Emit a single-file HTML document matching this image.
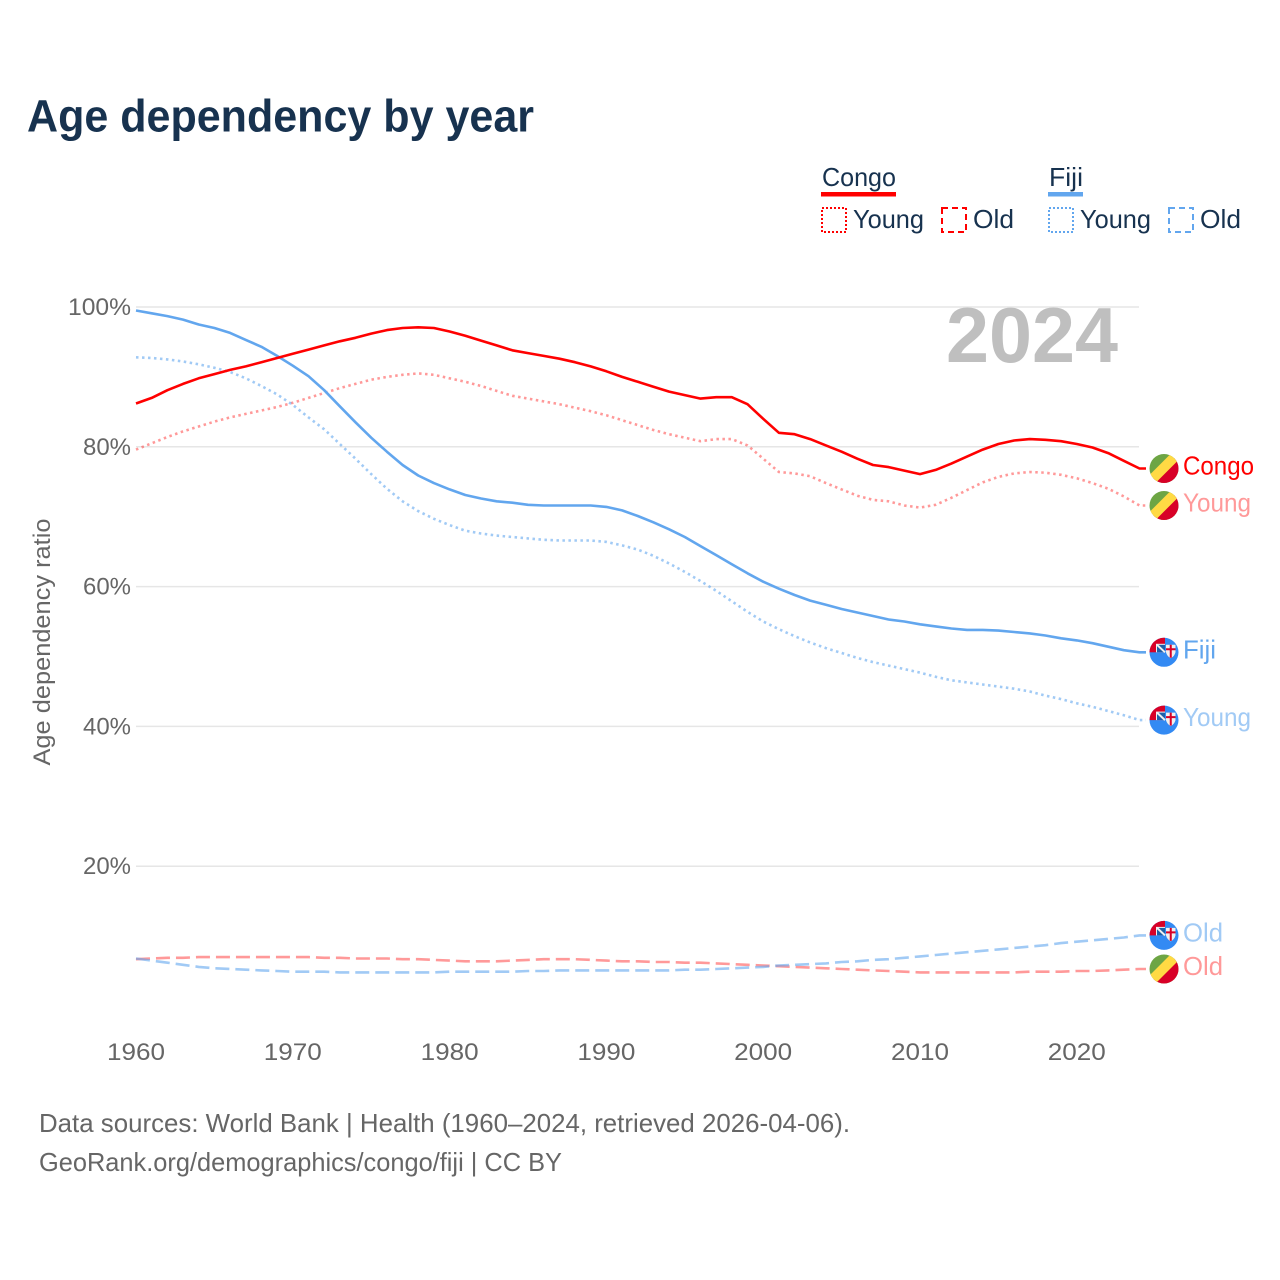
<!DOCTYPE html>
<html lang="en">
<head>
<meta charset="utf-8">
<title>Age dependency by year</title>
<style>
html,body{margin:0;padding:0;background:#fff;}
svg{display:block;}
text{font-family:"Liberation Sans",sans-serif;}
</style>
</head>
<body>
<svg id="chart" xmlns="http://www.w3.org/2000/svg" width="1280" height="1280" viewBox="0 0 1280 1280">
  <defs>
    <clipPath id="flag-clip"><circle cx="0" cy="0" r="14.5"/></clipPath>
    <g id="flag-congo" clip-path="url(#flag-clip)">
      <rect x="-15" y="-15" width="30" height="30" fill="#6da544"/>
      <polygon points="-15,15 15,-15 15,15" fill="#d80027"/>
      <polygon points="-15,7 7,-15 15,-15 15,-9 -9,15 -15,15" fill="#ffda44"/>
    </g>
    <g id="flag-fiji" clip-path="url(#flag-clip)">
      <rect x="-15" y="-15" width="30" height="30" fill="#338af3"/>
      <rect x="-15" y="-15" width="16" height="15" fill="#d80027"/>
      <rect x="-8" y="-8.500" width="9" height="8.500" fill="#f0f0f0"/>
      <rect x="-7" y="-7.500" width="8" height="7.500" fill="#1d5fa8"/>
      <path d="M-7,-7.500 L1,0" stroke="#f0f0f0" stroke-width="2"/>
      <path d="M2,-7.500 h9.500 v7.500 q-1,4 -4.750,6 q-3.750,-2 -4.750,-6 z" fill="#f0f0f0"/>
      <path d="M6.750,-7.500 v13 M2,-3 h9.500" stroke="#d80027" stroke-width="2"/>
    </g>
  </defs>

  <text x="27" y="131.500" font-size="45" font-weight="700" fill="#17324f" textLength="507" lengthAdjust="spacingAndGlyphs">Age dependency by year</text>

  <g>
    <text x="822" y="186" font-size="26" fill="#17324f" textLength="74" lengthAdjust="spacingAndGlyphs">Congo</text>
    <rect x="821" y="192" width="75" height="4.500" fill="#ff0000"/>
    <rect x="822" y="208" width="24" height="24" fill="none" stroke="#ff0000" stroke-width="2" stroke-dasharray="2 2"/>
    <text x="853" y="228" font-size="26" fill="#17324f" textLength="71" lengthAdjust="spacingAndGlyphs">Young</text>
    <rect x="942" y="208" width="24" height="24" fill="none" stroke="#ff0000" stroke-width="2" stroke-dasharray="6 4"/>
    <text x="973" y="228" font-size="26" fill="#17324f" textLength="41" lengthAdjust="spacingAndGlyphs">Old</text>

    <text x="1049" y="186" font-size="26" fill="#17324f" textLength="34" lengthAdjust="spacingAndGlyphs">Fiji</text>
    <rect x="1048" y="192" width="35" height="4.500" fill="#62a6ee"/>
    <rect x="1049" y="208" width="24" height="24" fill="none" stroke="#62a6ee" stroke-width="2" stroke-dasharray="2 2"/>
    <text x="1080" y="228" font-size="26" fill="#17324f" textLength="71" lengthAdjust="spacingAndGlyphs">Young</text>
    <rect x="1169" y="208" width="24" height="24" fill="none" stroke="#62a6ee" stroke-width="2" stroke-dasharray="6 4"/>
    <text x="1200" y="228" font-size="26" fill="#17324f" textLength="41" lengthAdjust="spacingAndGlyphs">Old</text>
  </g>

  <g id="grid"></g>
  <text x="946" y="362" font-size="78" font-weight="700" fill="#bfbfbf" textLength="172" lengthAdjust="spacingAndGlyphs">2024</text>
  <text transform="translate(50,642) rotate(-90)" text-anchor="middle" font-size="24" fill="#666666" textLength="247" lengthAdjust="spacingAndGlyphs">Age dependency ratio</text>
  <g id="y-ticks"></g>
  <g id="x-ticks"></g>
  <g id="series"></g>
  <g id="ends"></g>

  <text x="39" y="1132" font-size="26" fill="#666666" textLength="811" lengthAdjust="spacingAndGlyphs">Data sources: World Bank | Health (1960–2024, retrieved 2026-04-06).</text>
  <text x="39" y="1171" font-size="26" fill="#666666" textLength="523" lengthAdjust="spacingAndGlyphs">GeoRank.org/demographics/congo/fiji | CC BY</text>
</svg>

<script>
const startYear = 1960;
const xTickYears = [1960, 1970, 1980, 1990, 2000, 2010, 2020];
const yTickValues = [20, 40, 60, 80, 100];

const congoTotal = [86.2,87.0,88.1,89.0,89.8,90.4,91.0,91.5,92.1,92.7,93.3,93.9,94.5,95.1,95.6,96.2,96.7,97.0,97.1,97.0,96.5,95.9,95.2,94.5,93.8,93.4,93.0,92.6,92.1,91.5,90.8,90.0,89.3,88.6,87.9,87.4,86.9,87.1,87.1,86.1,84.0,82.0,81.8,81.1,80.2,79.3,78.3,77.4,77.1,76.6,76.1,76.7,77.6,78.6,79.6,80.4,80.9,81.1,81.0,80.8,80.4,79.9,79.1,78.0,76.9];
const congoYoung = [79.6,80.5,81.4,82.2,82.9,83.6,84.2,84.7,85.2,85.7,86.3,87.0,87.7,88.4,89.0,89.6,90.0,90.3,90.5,90.3,89.8,89.3,88.7,88.0,87.3,86.9,86.5,86.1,85.6,85.1,84.5,83.8,83.1,82.4,81.8,81.3,80.8,81.1,81.1,80.2,78.3,76.4,76.2,75.8,74.8,73.9,73.0,72.4,72.2,71.6,71.3,71.7,72.7,73.8,74.9,75.7,76.2,76.4,76.3,76.0,75.5,74.8,74.0,72.9,71.6];
const congoOld = [6.7,6.8,6.9,6.9,7.0,7.0,7.0,7.0,7.0,7.0,7.0,7.0,6.9,6.9,6.8,6.8,6.8,6.7,6.7,6.6,6.5,6.4,6.4,6.4,6.5,6.6,6.7,6.7,6.7,6.6,6.5,6.4,6.4,6.3,6.3,6.2,6.2,6.1,6.0,5.9,5.8,5.7,5.6,5.5,5.4,5.3,5.2,5.1,5.0,4.9,4.8,4.8,4.8,4.8,4.8,4.8,4.8,4.9,4.9,4.9,5.0,5.0,5.1,5.2,5.3];
const fijiTotal = [99.5,99.1,98.7,98.2,97.5,97.0,96.3,95.3,94.3,93.0,91.6,90.1,88.1,85.8,83.5,81.3,79.3,77.4,75.9,74.8,73.9,73.1,72.6,72.2,72.0,71.7,71.6,71.6,71.6,71.6,71.4,70.9,70.1,69.2,68.2,67.1,65.8,64.5,63.2,61.9,60.7,59.7,58.8,58.0,57.4,56.8,56.3,55.8,55.3,55.0,54.6,54.3,54.0,53.8,53.8,53.7,53.5,53.3,53.0,52.6,52.3,51.9,51.4,50.9,50.6];
const fijiYoung = [92.8,92.7,92.5,92.2,91.8,91.3,90.7,89.8,88.7,87.5,86.0,84.2,82.5,80.4,78.3,76.1,74.0,72.2,70.8,69.7,68.8,68.0,67.6,67.3,67.1,66.9,66.7,66.6,66.6,66.6,66.4,65.9,65.3,64.4,63.3,62.1,60.8,59.4,57.9,56.4,55.0,53.9,52.9,52.0,51.2,50.5,49.8,49.2,48.7,48.2,47.7,47.1,46.6,46.3,46.0,45.7,45.4,45.0,44.4,43.9,43.3,42.8,42.2,41.6,40.9];
const fijiOld = [6.8,6.5,6.2,5.9,5.6,5.4,5.3,5.2,5.1,5.0,4.9,4.9,4.9,4.8,4.8,4.8,4.8,4.8,4.8,4.8,4.9,4.9,4.9,4.9,4.9,5.0,5.0,5.1,5.1,5.1,5.1,5.1,5.1,5.1,5.1,5.2,5.2,5.3,5.4,5.5,5.6,5.8,5.9,6.0,6.1,6.3,6.4,6.6,6.7,6.9,7.1,7.3,7.5,7.7,7.9,8.1,8.3,8.5,8.7,9.0,9.2,9.4,9.6,9.8,10.1];

const xScale = (year) => 136 + (year - startYear) * 15.68;
const yScale = (value) => 1006 - value * 6.99;

const SVG_NS = 'http://www.w3.org/2000/svg';
const RED = '#ff0000';
const BLUE = '#62a6ee';

function make(tag, parent, attrs, text) {
  const el = document.createElementNS(SVG_NS, tag);
  for (const key in attrs) el.setAttribute(key, attrs[key]);
  if (text !== undefined) el.textContent = text;
  parent.appendChild(el);
  return el;
}

const gridLayer = document.getElementById('grid');
const yLayer = document.getElementById('y-ticks');
yTickValues.forEach((v) => {
  const line = make('line', gridLayer, {x1: 136, x2: 1139, y1: yScale(v), y2: yScale(v), stroke: '#e6e6e6', 'stroke-width': 1.5});
  
  
  const label = make('text', yLayer, {x: 131, y: yScale(v) + 8, 'text-anchor': 'end', 'font-size': 24, fill: '#666666', textLength: v === 100 ? 63 : 48, lengthAdjust: 'spacingAndGlyphs'}, v + '%');
  
  
});

const xLayer = document.getElementById('x-ticks');
xTickYears.forEach((year) => {
  const label = make('text', xLayer, {x: xScale(year), y: 1060, 'text-anchor': 'middle', 'font-size': 24, fill: '#666666', textLength: 58, lengthAdjust: 'spacingAndGlyphs'}, String(year));
  
  
});

const seriesLayer = document.getElementById('series');
const endLayer = document.getElementById('ends');

function drawSeries(values, color, opacity, dash, flag, labelText, labelLen) {
  const pts = values.map((v, i) => xScale(startYear + i).toFixed(1) + ',' + yScale(v).toFixed(1));
  const lastY = yScale(values[values.length - 1]);
  pts.push('1146,' + lastY.toFixed(1));
  const line = make('polyline', seriesLayer, {points: pts.join(' '), fill: 'none', stroke: color, 'stroke-opacity': opacity, 'stroke-width': 2.6, 'stroke-dasharray': dash, 'stroke-linejoin': 'round'});
  
  
  const marker = make('use', endLayer, {href: '#' + flag, transform: 'translate(1164,' + lastY.toFixed(1) + ')'});
  
  
  const label = make('text', endLayer, {x: 1183, y: (lastY + 6).toFixed(1), 'font-size': 26, fill: color, 'fill-opacity': opacity, textLength: labelLen, lengthAdjust: 'spacingAndGlyphs'}, labelText);
  
  
}

drawSeries(congoOld, RED, 0.4, '14 6', 'flag-congo', 'Old', 40);
drawSeries(fijiOld, BLUE, 0.6, '14 6', 'flag-fiji', 'Old', 40);
drawSeries(congoYoung, RED, 0.4, '2.5 3.5', 'flag-congo', 'Young', 68);
drawSeries(fijiYoung, BLUE, 0.6, '2.5 3.5', 'flag-fiji', 'Young', 68);
drawSeries(fijiTotal, BLUE, 1, 'none', 'flag-fiji', 'Fiji', 33);
drawSeries(congoTotal, RED, 1, 'none', 'flag-congo', 'Congo', 71);
</script>
</body>
</html>
